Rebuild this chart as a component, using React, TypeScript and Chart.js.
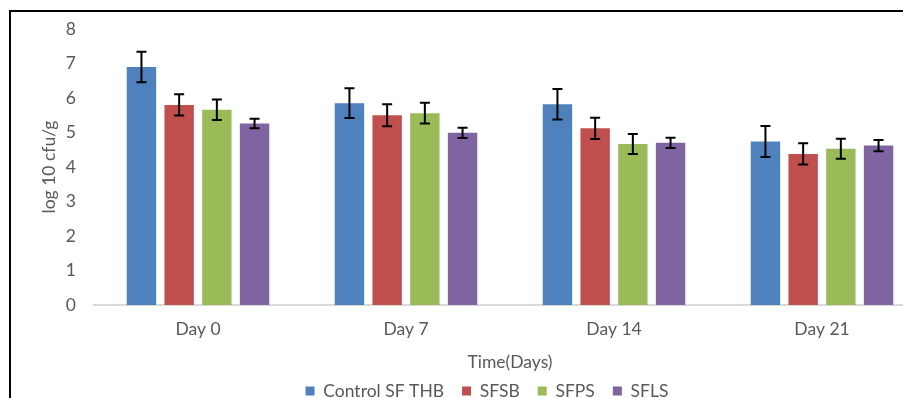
import React, { useEffect, useRef } from "react";
import { Chart, registerables } from "chart.js";

Chart.register(...registerables);

const categories = ["Day 0", "Day 7", "Day 14", "Day 21"];
const seriesNames = ["Control SF THB", "SFSB", "SFPS", "SFLS"];
const controlValues = [6.9, 5.85, 5.82, 4.74];
const controlErrors = [0.44, 0.43, 0.44, 0.45];
const sfsbValues = [5.8, 5.5, 5.12, 4.38];
const sfsbErrors = [0.31, 0.32, 0.31, 0.31];
const sfpsValues = [5.66, 5.56, 4.67, 4.53];
const sfpsErrors = [0.3, 0.3, 0.29, 0.29];
const sflsValues = [5.26, 4.99, 4.7, 4.62];
const sflsErrors = [0.14, 0.15, 0.15, 0.16];
const seriesColors = ["#4F81BD", "#C0504D", "#9BBB59", "#8064A2"];
const yAxisTitle = "log 10 cfu/g";
const xAxisTitle = "Time(Days)";

const FONT = "Lato, 'Open Sans', sans-serif";
const FS = 17.5;
const TEXT = "#595959";

const errorBarPlugin = {
  id: "errorBars",
  afterDatasetsDraw(chart: any) {
    const ctx = chart.ctx;
    const y = chart.scales.y;
    ctx.save();
    ctx.strokeStyle = "#000";
    ctx.lineWidth = 2;
    chart.data.datasets.forEach((ds: any, i: number) => {
      const meta = chart.getDatasetMeta(i);
      if (!ds.errors) return;
      meta.data.forEach((bar: any, j: number) => {
        const v = ds.data[j];
        const e = ds.errors[j];
        const x = bar.x;
        const yt = y.getPixelForValue(v + e);
        const yb = y.getPixelForValue(v - e);
        const cap = 5;
        ctx.beginPath();
        ctx.moveTo(x, yt);
        ctx.lineTo(x, yb);
        ctx.moveTo(x - cap, yt);
        ctx.lineTo(x + cap, yt);
        ctx.moveTo(x - cap, yb);
        ctx.lineTo(x + cap, yb);
        ctx.stroke();
      });
    });
    ctx.restore();
  },
};

const legendShiftPlugin = {
  id: "legendShift",
  afterLayout(chart: any) {
    const lg = chart.legend;
    if (lg) {
      lg.left += 24;
      lg.right += 24;
      lg.top -= 8.25;
      lg.bottom = 420;
    }
  },
};

export default function App() {
  const ref = useRef<HTMLCanvasElement>(null);
  useEffect(() => {
    if (!ref.current) return;
    const values = [controlValues, sfsbValues, sfpsValues, sflsValues];
    const errors = [controlErrors, sfsbErrors, sfpsErrors, sflsErrors];
    const chart = new Chart(ref.current, {
      type: "bar",
      data: {
        labels: categories,
        datasets: seriesNames.map((name, i) => ({
          label: name,
          data: values[i],
          errors: errors[i],
          backgroundColor: seriesColors[i],
          borderWidth: 0,
          categoryPercentage: 0.725,
          barPercentage: 0.78,
        })) as any,
      },
      options: {
        animation: false,
        responsive: false,
        devicePixelRatio: 1,
        layout: { padding: { top: 29, left: 0, right: 0, bottom: 0 } },
        plugins: {
          tooltip: { enabled: false },
          title: { display: false },
          legend: {
            position: "bottom",
            maxHeight: 25.5,
            labels: {
              boxWidth: 9,
              boxHeight: 9,
              padding: 18,
              color: TEXT,
              font: { family: FONT, size: FS },
            },
          },
        },
        scales: {
          x: {
            grid: { display: false, drawTicks: false },
            border: { display: true, color: "#D9D9D9", width: 2 },
            ticks: {
              color: TEXT,
              padding: 14,
              font: { family: FONT, size: FS },
            },
            title: {
              display: true,
              text: xAxisTitle,
              color: TEXT,
              font: { family: FONT, size: FS },
              padding: { top: 0, bottom: 0 },
            },
            afterFit(scale: any) {
              scale.height = 67.5;
            },
          },
          y: {
            min: 0,
            max: 8,
            grid: { display: false, drawTicks: false },
            border: { display: false },
            ticks: {
              stepSize: 1,
              color: TEXT,
              padding: 18,
              font: { family: FONT, size: FS },
            },
            title: {
              display: true,
              text: yAxisTitle,
              color: TEXT,
              font: { family: FONT, size: FS },
              padding: { top: 38.5, bottom: 0 },
            },
            afterFit(scale: any) {
              scale.width = 94;
            },
          },
        },
      } as any,
      plugins: [errorBarPlugin, legendShiftPlugin],
    });
    return () => chart.destroy();
  }, []);

  return (
    <div
      style={{
        position: "absolute",
        left: 0,
        top: 0,
        width: 903,
        height: 398,
        overflow: "hidden",
        background: "#fff",
      }}
    >
      <canvas
        ref={ref}
        width={926}
        height={398}
        style={{ position: "absolute", left: 0, top: 0, width: 926, height: 398 }}
      />
      <div
        style={{
          position: "absolute",
          left: 9,
          top: 10,
          width: 1000,
          height: 500,
          borderLeft: "2px solid #000",
          borderTop: "2px solid #000",
          pointerEvents: "none",
        }}
      />
    </div>
  );
}
